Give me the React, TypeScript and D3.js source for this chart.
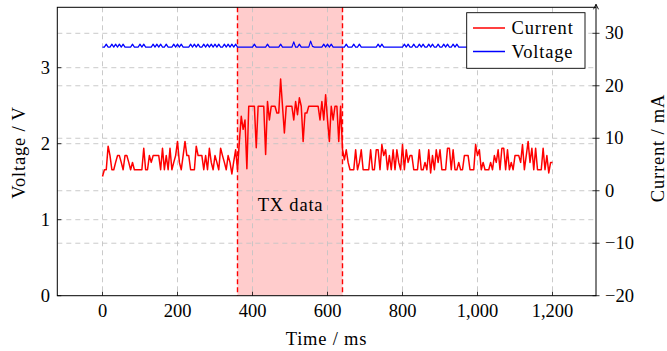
import React from "react";
import * as d3 from "d3";

// ---- data ----
const TIME_STEP_MS = 5;
const X_TICKS = [0, 200, 400, 600, 800, 1000, 1200];
const X_TICK_LABELS = ["0", "200", "400", "600", "800", "1,000", "1,200"];
const VOLT_TICKS = [0, 1, 2, 3];
const CURR_TICKS = [-20, -10, 0, 10, 20, 30];
const TX_WINDOW = [360, 640];

// Current in mA, one sample every 5 ms from 0 to 1200 ms
const CURRENT = [
  2.7, 4.0, 4.0, 8.5, 6.7, 4.0, 4.0, 5.4, 6.7, 6.7,
  5.4, 4.0, 6.7, 6.7, 5.4, 4.0, 5.4, 4.0, 4.0, 4.0,
  4.0, 4.0, 8.1, 4.0, 4.0, 6.7, 5.4, 6.7, 6.7, 6.7,
  6.7, 4.0, 8.1, 4.0, 6.7, 4.0, 8.1, 4.0, 5.4, 6.7,
  9.4, 5.4, 4.0, 6.7, 9.4, 6.7, 6.7, 4.0, 4.0, 4.0,
  8.5, 6.7, 6.7, 6.7, 4.0, 6.7, 4.0, 8.1, 5.4, 4.0,
  6.7, 5.4, 4.0, 8.1, 6.7, 5.4, 4.0, 6.7, 5.4, 3.2,
  5.6, 7.8,
  // TX window 360..635
  4.0, 9.4, 14.2, 11.7, 13.5, 4.2, 16.1, 16.1, 16.1, 16.1,
  8.2, 16.1, 16.1, 16.1, 16.1, 6.9, 17.0, 13.5, 16.1, 16.1,
  16.1, 14.8, 14.8, 21.3, 16.1, 11.0, 16.1, 16.1, 16.1, 16.1,
  13.5, 17.0, 14.5, 17.7, 16.1, 9.4, 14.8, 14.8, 16.1, 16.1,
  16.1, 16.1, 16.1, 16.1, 13.5, 17.0, 13.5, 18.3, 13.5, 9.4,
  16.1, 13.5, 16.1, 16.1, 9.4, 16.1,
  // 640..1200
  7.9, 5.9, 7.8, 5.4, 4.0, 4.0, 4.0, 7.8, 4.0, 5.4,
  7.8, 4.0, 4.0, 4.0, 4.0, 7.8, 4.0, 4.0, 7.8, 7.8,
  4.0, 8.8, 6.7, 7.8, 4.0, 6.7, 4.0, 7.8, 4.0, 7.8,
  5.4, 4.0, 8.8, 4.0, 7.8, 5.4, 6.7, 6.7, 4.0, 4.0,
  4.0, 7.8, 4.0, 4.0, 5.4, 4.0, 7.8, 3.4, 6.7, 4.0,
  7.8, 5.4, 7.8, 4.0, 4.0, 4.0, 8.1, 8.1, 4.0, 7.8,
  4.0, 4.0, 5.4, 4.0, 4.0, 6.7, 6.7, 6.7, 4.0, 4.0,
  4.0, 8.8, 6.7, 7.8, 4.0, 5.4, 4.0, 4.0, 4.0, 5.4,
  4.0, 6.7, 5.4, 7.8, 4.0, 8.1, 8.1, 4.0, 7.8, 4.0,
  5.4, 4.0, 6.7, 6.7, 6.7, 5.4, 8.8, 4.0, 6.7, 9.4,
  5.4, 8.1, 4.0, 8.1, 4.0, 4.0, 4.0, 8.1, 4.0, 6.7,
  3.4, 5.4, 5.4,
];

// Voltage in V, one sample every 5 ms from 0 to 1200 ms
const VOLTAGE = [
  3.27, 3.27, 3.31, 3.27, 3.27, 3.31, 3.27, 3.31, 3.27, 3.31,
  3.27, 3.31, 3.27, 3.27, 3.27, 3.27, 3.31, 3.27, 3.27, 3.27,
  3.31, 3.27, 3.31, 3.27, 3.27, 3.27, 3.27, 3.31, 3.27, 3.31,
  3.27, 3.31, 3.27, 3.27, 3.31, 3.27, 3.27, 3.27, 3.31, 3.27,
  3.31, 3.27, 3.31, 3.27, 3.27, 3.27, 3.27, 3.31, 3.27, 3.31,
  3.27, 3.31, 3.27, 3.27, 3.31, 3.27, 3.31, 3.27, 3.31, 3.27,
  3.31, 3.27, 3.31, 3.27, 3.27, 3.31, 3.27, 3.31, 3.27, 3.31,
  3.27, 3.31, 3.27, 3.27, 3.27, 3.27, 3.27, 3.27, 3.27, 3.27,
  3.27, 3.31, 3.27, 3.27, 3.27, 3.27, 3.27, 3.27, 3.31, 3.27,
  3.27, 3.27, 3.27, 3.27, 3.27, 3.31, 3.27, 3.27, 3.27, 3.27,
  3.27, 3.27, 3.34, 3.27, 3.27, 3.31, 3.27, 3.27, 3.27, 3.27,
  3.27, 3.35, 3.28, 3.27, 3.27, 3.27, 3.27, 3.27, 3.31, 3.27,
  3.31, 3.27, 3.31, 3.27, 3.27, 3.27, 3.27, 3.27, 3.27, 3.27,
  3.31, 3.27, 3.27, 3.27, 3.31, 3.27, 3.27, 3.31, 3.27, 3.27,
  3.27, 3.27, 3.27, 3.27, 3.27, 3.27, 3.27, 3.31, 3.27, 3.31,
  3.27, 3.27, 3.27, 3.27, 3.27, 3.27, 3.27, 3.27, 3.27, 3.27,
  3.27, 3.31, 3.27, 3.31, 3.27, 3.27, 3.31, 3.27, 3.27, 3.31,
  3.27, 3.31, 3.27, 3.27, 3.31, 3.27, 3.31, 3.27, 3.27, 3.31,
  3.27, 3.27, 3.31, 3.27, 3.31, 3.27, 3.27, 3.31, 3.27, 3.31,
  3.27, 3.27, 3.27, 3.27, 3.27, 3.27, 3.27, 3.27, 3.31, 3.27,
  3.27, 3.27, 3.27, 3.27, 3.31, 3.27, 3.27, 3.27, 3.27, 3.27,
  3.31, 3.27, 3.27, 3.27, 3.27, 3.27, 3.27, 3.27, 3.27, 3.27,
  3.31, 3.27, 3.27, 3.27, 3.27, 3.27, 3.27, 3.27, 3.27, 3.31,
  3.27, 3.27, 3.27, 3.31, 3.27, 3.27, 3.27, 3.27, 3.27, 3.27,
  3.27,
];

const SERIES = ["Current", "Voltage"];
const SERIES_COLORS = ["#ff0000", "#0000ff"];

// ---- layout ----
const W = 667;
const H = 351;
const PLOT = { left: 57.3, right: 596, top: 7.3, bottom: 295.7 };
const FS = 18.5;
const NUM_STYLE: React.CSSProperties = { fontFamily: "'Liberation Serif'", fontSize: FS };
const WORD_STYLE: React.CSSProperties = { fontFamily: "'Liberation Serif'", fontSize: FS, letterSpacing: 0.8 };

export default function App() {
  const x = d3.scaleLinear().domain([0, 1200]).range([102.5, 552.5]);
  const yV = d3.scaleLinear().domain([0, 3]).range([PLOT.bottom, 67.7]);
  const yC = d3.scaleLinear().domain([-20, 30]).range([PLOT.bottom, 33.3]);

  const currentPts = CURRENT.map((v, i) => [i * TIME_STEP_MS, v] as [number, number]);
  const voltagePts = VOLTAGE.map((v, i) => [i * TIME_STEP_MS, v] as [number, number]);

  const lineC = d3.line<[number, number]>().x((d) => x(d[0])).y((d) => yC(d[1]));
  const lineV = d3.line<[number, number]>().x((d) => x(d[0])).y((d) => yV(d[1]));

  const gridColor = "#c4c4c4";
  const gridDash = "5,4";

  return (
    <svg width={W} height={H} style={{ position: "absolute", left: 0, top: 0, background: "#fff" }}>
      <defs>
        <clipPath id="plotclip">
          <rect x={PLOT.left} y={PLOT.top} width={PLOT.right - PLOT.left} height={PLOT.bottom - PLOT.top} />
        </clipPath>
      </defs>
      <rect x={0} y={0} width={W} height={H} fill="#fff" />

      {/* TX window fill */}
      <rect
        x={x(TX_WINDOW[0])}
        y={PLOT.top}
        width={x(TX_WINDOW[1]) - x(TX_WINDOW[0])}
        height={PLOT.bottom - PLOT.top}
        fill="#ffcccc"
      />

      {/* grid */}
      <g stroke={gridColor} strokeWidth={0.9} strokeDasharray={gridDash} fill="none">
        {X_TICKS.map((t) => (
          <line key={"gx" + t} x1={x(t)} x2={x(t)} y1={PLOT.top} y2={PLOT.bottom} />
        ))}
        {VOLT_TICKS.filter((t) => t > 0).map((t) => (
          <line key={"gv" + t} x1={PLOT.left} x2={PLOT.right} y1={yV(t)} y2={yV(t)} />
        ))}
        {CURR_TICKS.filter((t) => t > -20).map((t) => (
          <line key={"gc" + t} x1={PLOT.left} x2={PLOT.right} y1={yC(t)} y2={yC(t)} />
        ))}
      </g>

      {/* TX borders */}
      <g stroke="#ff0000" strokeWidth={1.4} strokeDasharray="5,3">
        {TX_WINDOW.map((t) => (
          <line key={"tx" + t} x1={x(t)} x2={x(t)} y1={PLOT.top} y2={PLOT.bottom} />
        ))}
      </g>
      <text x={290.5} y={211} textAnchor="middle" fill="#000" style={WORD_STYLE}>TX data</text>

      {/* series */}
      <g clipPath="url(#plotclip)" fill="none" strokeLinejoin="round">
        <path d={lineV(voltagePts) || ""} stroke={SERIES_COLORS[1]} strokeWidth={1.2} />
        <path d={lineC(currentPts) || ""} stroke={SERIES_COLORS[0]} strokeWidth={1.5} />
      </g>

      {/* frame */}
      <rect
        x={PLOT.left}
        y={PLOT.top}
        width={PLOT.right - PLOT.left}
        height={PLOT.bottom - PLOT.top}
        fill="none"
        stroke="#000"
        strokeWidth={1}
      />
      {/* right axis arrow */}
      <path d={`M${PLOT.right},${PLOT.top - 3} L${PLOT.right - 2.5},${PLOT.top + 2} M${PLOT.right},${PLOT.top - 3} L${PLOT.right + 2.5},${PLOT.top + 2}`} stroke="#000" strokeWidth={0.9} fill="none" />
      <line x1={PLOT.right} x2={PLOT.right} y1={PLOT.top - 3} y2={PLOT.top} stroke="#000" strokeWidth={1} />

      {/* ticks */}
      <g stroke="#000" strokeWidth={0.8}>
        {X_TICKS.map((t) => (
          <line key={"tk" + t} x1={x(t)} x2={x(t)} y1={PLOT.bottom} y2={PLOT.bottom - 4} />
        ))}
        {VOLT_TICKS.map((t) => (
          <line key={"tv" + t} x1={PLOT.left} x2={PLOT.left + 4} y1={yV(t)} y2={yV(t)} />
        ))}
        {CURR_TICKS.map((t) => (
          <line key={"tc" + t} x1={PLOT.right - 3.5} x2={PLOT.right + 3.5} y1={yC(t)} y2={yC(t)} />
        ))}
      </g>

      {/* tick labels */}
      <g fill="#000">
        {X_TICKS.map((t, i) => (
          <text key={"lx" + t} x={x(t)} y={317} textAnchor="middle" style={NUM_STYLE}>{X_TICK_LABELS[i]}</text>
        ))}
        {VOLT_TICKS.map((t) => (
          <text key={"lv" + t} x={50} y={yV(t) + 6} textAnchor="end" style={NUM_STYLE}>{String(t)}</text>
        ))}
        {CURR_TICKS.map((t) => (
          <text key={"lc" + t} x={605} y={yC(t) + 6} textAnchor="start" style={NUM_STYLE}>{t < 0 ? "\u2212" + Math.abs(t) : String(t)}</text>
        ))}
      </g>

      {/* axis labels */}
      <text x={326.5} y={345} textAnchor="middle" style={WORD_STYLE}>Time / ms</text>
      <text transform="translate(25,152.5) rotate(-90)" textAnchor="middle" style={WORD_STYLE}>Voltage / V</text>
      <text transform="translate(664,148) rotate(-90)" textAnchor="middle" style={WORD_STYLE}>Current / mA</text>

      {/* legend */}
      <g>
        <rect x={466.7} y={12.7} width={118.3} height={55.6} fill="#fff" stroke="#000" strokeWidth={0.9} />
        {SERIES.map((s, i) => (
          <g key={s}>
            <line x1={473} x2={505} y1={28 + i * 23.5} y2={28 + i * 23.5} stroke={SERIES_COLORS[i]} strokeWidth={1.5} />
            <text x={511.5} y={34 + i * 23.5} style={WORD_STYLE}>{s}</text>
          </g>
        ))}
      </g>
    </svg>
  );
}
